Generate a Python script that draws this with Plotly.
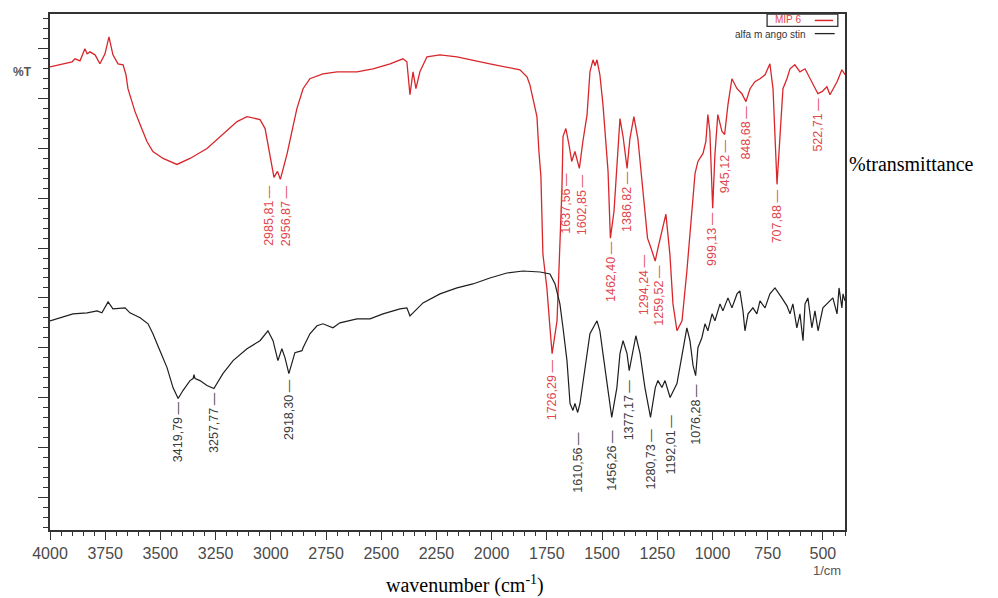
import numpy as np
import plotly.graph_objects as go

# ---------------- data ----------------
# MIP 6 spectrum (red): wavenumber (1/cm) and %T (arbitrary offset scale)
wn_mip = [4000, 3955, 3900, 3887, 3864, 3842, 3832, 3819, 3796, 3774, 3751, 3733, 3715, 3692,
          3669, 3656, 3647, 3629, 3615, 3592, 3561, 3534, 3488, 3425, 3366, 3289, 3217, 3153,
          3108, 3072, 3049, 3026, 3004, 2985.81, 2970, 2956.87, 2927, 2900, 2882, 2854, 2823,
          2764, 2700, 2610, 2537, 2460, 2402, 2384, 2370, 2356, 2343, 2325, 2293, 2234, 2157,
          2008, 1872, 1840, 1827, 1813, 1795, 1786, 1777, 1768, 1750, 1736, 1726.29, 1704,
          1691, 1682, 1677, 1664, 1650, 1637.56, 1623, 1602.85, 1587, 1568, 1555, 1541, 1532,
          1523, 1510, 1496, 1473, 1462.40, 1446, 1433, 1419, 1405, 1386.82, 1374, 1356, 1338,
          1315, 1294.24, 1274, 1259.52, 1247, 1229, 1211, 1193, 1179, 1161, 1138, 1116, 1093,
          1079, 1066, 1043, 1030, 1021, 1012, 1002, 999.13, 989, 980, 976, 957, 945.12, 930,
          912, 889, 867, 848.68, 830, 808, 785, 762, 740, 726, 717, 707.88, 695, 681, 663, 649,
          627, 604, 581, 559, 522.71, 504, 482, 468, 436, 414, 400]
t_mip = [86.4, 86.8, 87.4, 88.0, 87.6, 90.0, 89.0, 89.4, 88.8, 87.0, 89.0, 92.4, 88.8, 87.0,
         86.8, 84.8, 82.0, 79.4, 77.4, 74.8, 71.4, 69.4, 68.0, 66.8, 68.0, 70.0, 72.8, 75.4,
         76.4, 76.0, 75.8, 74.0, 68.8, 64.2, 65.4, 63.8, 68.8, 74.0, 78.0, 82.0, 84.0,
         85.0, 85.4, 85.4, 86.0, 87.0, 88.0, 87.4, 80.8, 85.4, 82.0, 85.4, 88.4, 88.8, 88.4,
         87.0, 85.8, 84.4, 82.8, 80.0, 76.4, 69.4, 64.4, 48.8, 42.0, 34.0, 28.8, 35.4,
         52.0, 61.4, 72.4, 74.0, 70.8, 67.4, 69.4, 66.0, 71.4, 76.8, 85.4, 87.8, 86.6,
         87.8, 84.8, 78.8, 65.4, 52.0, 57.4, 65.4, 76.0, 72.4, 66.0, 72.0, 76.4, 72.0,
         60.8, 52.0, 49.4, 47.4, 50.0, 53.4, 56.8, 48.8, 38.8, 33.4, 35.4, 45.4, 58.8,
         65.0, 67.4, 69.0, 71.4, 76.8, 73.4, 62.0, 58.0, 68.8, 75.4, 76.8, 73.4, 72.8, 78.8,
         84.0, 82.0, 81.0, 79.4, 82.0, 83.4, 84.0, 84.8, 87.0, 82.0, 72.0, 62.8, 72.0, 82.0, 84.0, 86.0,
         86.8, 85.4, 86.0, 84.0, 81.0, 81.4, 82.4, 80.8, 83.4, 85.8, 84.8]

# alfa mangostin spectrum (black)
wn_alfa = [4000, 3955, 3896, 3832, 3787, 3765, 3737, 3715, 3683, 3660, 3638, 3592, 3556, 3534,
           3502, 3470, 3443, 3419.79, 3398, 3366, 3352, 3348, 3343, 3321, 3289, 3257.77, 3217,
           3171, 3108, 3049, 3013, 2990, 2968, 2950, 2936, 2918.30, 2891, 2859, 2854, 2823,
           2791, 2764, 2719, 2687, 2610, 2551, 2492, 2415, 2384, 2370, 2347, 2311, 2234, 2157,
           2085, 2008, 1931, 1858, 1781, 1736, 1713, 1691, 1677, 1659, 1645, 1632, 1623,
           1610.56, 1600, 1578, 1555, 1523, 1510, 1496, 1473, 1456.26, 1433, 1419, 1405, 1387,
           1377.17, 1360, 1347, 1328, 1306, 1280.73, 1259, 1247, 1229, 1215, 1192.01, 1161,
           1138, 1116, 1102, 1088, 1076.28, 1066, 1048, 1034, 1021, 1002, 989, 966, 953, 930,
           912, 889, 876, 862, 853, 839, 817, 799, 785, 762, 740, 717, 686, 663, 649, 636, 618,
           604, 590, 581, 568, 550, 536, 522, 500, 477, 455, 436, 427, 414, 409, 400]
t_alfa = [35.4, 36.0, 36.8, 37.0, 37.4, 37.0, 39.2, 37.8, 38.0, 38.0, 37.0, 36.0, 34.8, 32.8,
          29.4, 26.0, 22.0, 19.8, 21.4, 23.4, 23.8, 24.6, 23.8, 23.4, 22.4, 21.8, 24.8,
          27.4, 29.8, 31.4, 33.4, 31.4, 27.4, 29.8, 28.0, 24.8, 29.0, 29.4, 30.0, 32.8,
          34.4, 34.8, 34.0, 35.0, 35.8, 35.8, 36.8, 37.8, 38.0, 36.4, 37.4, 39.0, 40.8, 42.0,
          42.8, 44.0, 45.0, 45.4, 45.2, 44.8, 42.8, 38.8, 34.0, 27.4, 18.8, 17.4, 18.8,
          17.0, 18.8, 25.4, 32.8, 35.4, 33.4, 28.8, 20.8, 16.0, 22.0, 28.8, 31.4, 28.8,
          25.4, 29.4, 32.4, 28.8, 22.0, 16.0, 22.0, 23.4, 22.0, 23.4, 20.0, 22.8,
          28.8, 34.0, 31.4, 26.4, 24.4, 30.0, 32.0, 34.8, 33.4, 36.8, 35.4, 38.8, 37.4, 40.0,
          38.0, 40.8, 41.4, 37.4, 33.4, 36.8, 38.0, 36.8, 39.4, 38.0, 40.8, 42.0, 40.0, 38.4, 36.8, 38.8, 34.0,
          36.8, 31.4, 38.8, 40.0, 34.0, 37.4, 33.4, 38.0, 39.0, 40.0, 36.8, 42.0, 38.0, 40.8, 39.4]

# peak labels
mip_peaks = ["2985,81", "2956,87", "1726,29", "1637,56", "1602,85", "1462,40", "1386,82",
             "1294,24", "1259,52", "999,13", "945,12", "848,68", "707,88", "522,71"]
alfa_peaks = ["3419,79", "3257,77", "2918,30", "1610,56", "1456,26", "1377,17", "1280,73",
              "1192,01", "1076,28"]

x_ticks = [4000, 3750, 3500, 3250, 3000, 2750, 2500, 2250, 2000, 1750, 1500, 1250, 1000, 750, 500]

# label placement: (horizontal pixel shift, pixel gap below the peak)
mip_offsets = [(-5, 6), (5, 5), (0, 5), (-6, 10), (3, 5), (0, 2), (0, 2),
               (-4, 15), (3, 3), (0, 3), (0, 4), (0, 3), (0, 4), (0, 3)]
alfa_offsets = [(0, 2), (0, 2), (0, 4), (0, 18), (0, 11), (0, 8), (0, 10), (0, 16), (0, 7)]

RED = "#d8262b"
RED_TXT = "#e0474c"
BLK = "#1e1e1e"
BLK_TXT = "#3a3a3a"

fig = go.Figure()
fig.add_trace(go.Scatter(x=wn_mip, y=t_mip, mode="lines", name="MIP 6",
                         line=dict(color=RED, width=1.3), showlegend=False))
fig.add_trace(go.Scatter(x=wn_alfa, y=t_alfa, mode="lines", name="alfa mangostin",
                         line=dict(color=BLK, width=1.2), showlegend=False))

annotations = []


def peak_value(label, wn, t):
    w = float(label.replace(",", "."))
    return w, float(np.interp(w, np.array(wn)[::-1], np.array(t)[::-1]))


for labels, offs, wn, t, col in [(mip_peaks, mip_offsets, wn_mip, t_mip, RED_TXT),
                                 (alfa_peaks, alfa_offsets, wn_alfa, t_alfa, BLK_TXT)]:
    for lab, (dx, gap) in zip(labels, offs):
        w, v = peak_value(lab, wn, t)
        annotations.append(dict(
            x=w, y=v, xref="x", yref="y", text=lab + "\u2009\u2014", textangle=-90,
            showarrow=False, xanchor="center", yanchor="top", xshift=dx, yshift=-gap,
            borderpad=0,
            font=dict(family="Liberation Sans, Arial", size=12.5, color=col),
        ))

# axis/legend texts
annotations += [
    dict(text="%T", xref="paper", yref="paper", x=-0.035, y=0.888, showarrow=False,
         xanchor="center", yanchor="middle",
         font=dict(family="Liberation Sans, Arial", size=12, color="#555", weight="bold")),
    dict(text="1/cm", xref="paper", yref="paper", x=0.977, y=-0.079, showarrow=False,
         xanchor="center", yanchor="middle",
         font=dict(family="Liberation Sans, Arial", size=13, color="#555")),
    dict(text="wavenumber (cm<sup>-1</sup>)", xref="paper", yref="paper", x=0.522, y=-0.106,
         xanchor="center", yanchor="middle",
         showarrow=False, font=dict(family="Liberation Serif, Times New Roman", size=20, color="black")),
    dict(text="%transmittance", xref="paper", yref="paper", x=1.003, y=0.71, xanchor="left",
         yanchor="middle",
         showarrow=False, font=dict(family="Liberation Serif, Times New Roman", size=20, color="black")),
    dict(text="MIP 6", xref="paper", yref="paper", x=0.928, y=0.989, showarrow=False,
         xanchor="center", yanchor="middle",
         font=dict(family="Liberation Sans, Arial", size=10, color=RED_TXT)),
    dict(text="alfa m ango stin", xref="paper", yref="paper", x=0.953, y=0.961, xanchor="right",
         yanchor="middle",
         showarrow=False, font=dict(family="Liberation Sans, Arial", size=10, color="#333")),
]

shapes = [
    dict(type="rect", xref="paper", yref="paper", x0=0.902, x1=0.991, y0=0.976, y1=1.0,
         line=dict(color="#333", width=1.3), fillcolor="rgba(0,0,0,0)"),
    dict(type="line", xref="paper", yref="paper", x0=0.962, x1=0.985, y0=0.9875, y1=0.9875,
         line=dict(color=RED, width=1.5)),
    dict(type="line", xref="paper", yref="paper", x0=0.962, x1=0.987, y0=0.962, y1=0.962,
         line=dict(color="#222", width=1.3)),
]

fig.update_layout(
    width=998, height=598,
    margin=dict(l=50, r=153, t=12, b=68),
    paper_bgcolor="white", plot_bgcolor="white",
    annotations=annotations, shapes=shapes,
    xaxis=dict(range=[4000, 400], tickvals=x_ticks, ticktext=[str(v) for v in x_ticks],
               ticks="outside", ticklen=8, tickwidth=1.3, tickcolor="#333",
               minor=dict(dtick=50, tick0=0, ticks="outside", ticklen=4, tickwidth=1.2, tickcolor="#333"),
               showline=True, mirror=True, linecolor="#333", linewidth=1.5,
               showgrid=False, zeroline=False,
               tickfont=dict(family="Liberation Sans, Arial", size=16, color="#4a4a4a")),
    yaxis=dict(range=[-6.6, 97], tick0=0, dtick=10, showticklabels=False,
               ticks="outside", ticklen=10, tickwidth=1.3, tickcolor="#333",
               minor=dict(dtick=2, ticks="outside", ticklen=5, tickwidth=1.2, tickcolor="#333"),
               showline=True, mirror=True, linecolor="#333", linewidth=1.5,
               showgrid=False, zeroline=False),
)

fig.write_html("out.html", config={"displayModeBar": False},
               post_script="document.body.style.margin='0';")
